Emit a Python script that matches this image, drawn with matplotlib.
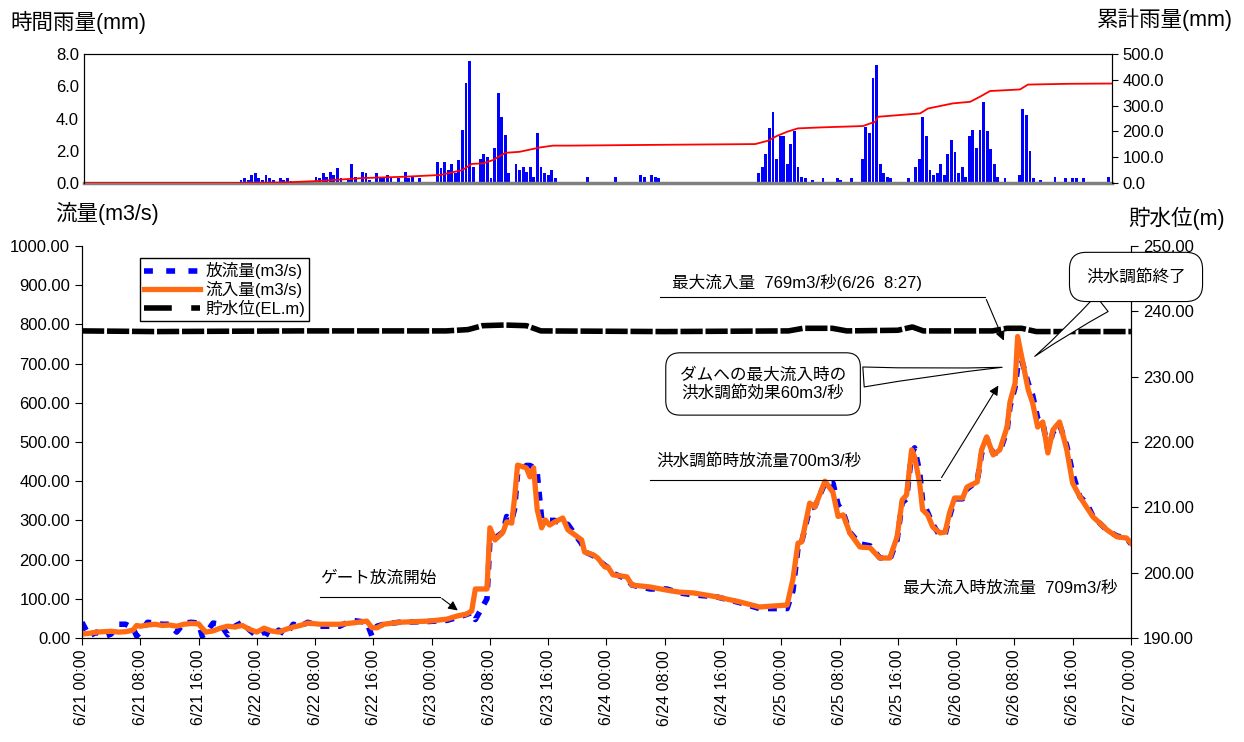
import matplotlib
matplotlib.use('Agg')
import matplotlib.pyplot as plt
import matplotlib.ticker as ticker
from matplotlib.lines import Line2D

plt.rcParams['font.family'] = ['Liberation Sans', 'Noto Sans CJK JP', 'DejaVu Sans']

# time axis: hours counted from 6/21 00:00
tick_hours = list(range(0, 145, 8))
tick_labels = ['6/21 00:00', '6/21 08:00', '6/21 16:00', '6/22 00:00', '6/22 08:00', '6/22 16:00',
               '6/23 00:00', '6/23 08:00', '6/23 16:00', '6/24 00:00', '6/24 08:00', '6/24 16:00',
               '6/25 00:00', '6/25 08:00', '6/25 16:00', '6/26 00:00', '6/26 08:00', '6/26 16:00',
               '6/27 00:00']

# hourly rainfall (mm)
rain_t = [22.0, 22.5, 23.0, 23.5, 24.0, 24.5, 25.0, 25.5, 26.0, 26.5, 27.5, 28.0, 28.5, 29.0,
          32.5, 33.0, 33.5, 34.0, 34.5, 35.0, 35.5, 36.0, 37.0, 37.5, 38.0, 39.0, 39.5, 40.0,
          41.0, 41.5, 42.0, 42.5, 43.0, 44.0, 45.0, 45.5, 46.0, 47.0,
          49.5, 50.0, 50.5, 51.0, 51.5, 52.0, 52.5, 53.0, 53.5, 54.0, 54.5,
          55.5, 56.0, 56.5, 57.0, 57.5, 58.0, 58.5, 59.0, 59.5, 60.5, 61.0, 61.5, 62.0, 62.5,
          63.0, 63.5, 64.0, 64.5, 65.0, 65.5, 66.0,
          70.5, 74.5, 78.0, 78.5, 79.5, 80.0, 80.5,
          94.5, 95.0, 95.5, 96.0, 96.5, 97.0, 97.5, 98.0, 98.5, 99.0, 99.5, 100.0, 100.5,
          101.0, 102.0, 103.5, 105.5, 106.0, 107.5,
          109.0, 109.5, 110.0, 110.5, 111.0, 111.5, 112.0, 112.5, 113.0, 115.5, 116.5, 117.0,
          117.5, 118.0, 118.5, 119.0, 119.5, 120.0, 120.5, 121.0, 121.5, 122.0, 122.5, 123.0,
          123.5, 124.0, 124.5, 125.0, 125.5, 126.0, 126.5, 127.0, 127.5, 128.0, 129.0,
          131.0, 131.5, 132.0, 132.5, 133.0, 134.0, 136.0, 137.5, 138.5, 139.0, 140.0, 143.5]
rain_mm = [0.2, 0.3, 0.2, 0.5, 0.6, 0.3, 0.2, 0.5, 0.3, 0.2, 0.3, 0.2, 0.3, 0.1,
           0.4, 0.3, 0.6, 0.4, 0.7, 0.5, 0.9, 0.3, 0.2, 1.2, 0.4, 0.7, 0.6, 0.2,
           0.6, 0.4, 0.3, 0.5, 0.4, 0.3, 0.7, 0.3, 0.4, 0.3,
           1.3, 0.9, 1.3, 0.8, 1.2, 0.6, 1.4, 3.3, 6.2, 7.6, 1.0,
           1.5, 1.8, 1.6, 0.3, 2.2, 5.6, 4.1, 3.0, 0.6, 1.2, 0.8, 1.0, 0.7, 1.0,
           0.4, 3.1, 1.0, 0.6, 0.5, 0.8, 0.3,
           0.4, 0.4, 0.5, 0.4, 0.5, 0.4, 0.3,
           0.6, 1.0, 1.8, 3.4, 4.4, 1.5, 2.9, 2.9, 1.2, 2.4, 3.2, 1.0, 0.4,
           0.3, 0.2, 0.3, 0.3, 0.2, 0.3,
           1.5, 3.5, 3.1, 6.5, 7.3, 1.2, 0.6, 0.4, 0.3, 0.3, 1.0, 1.5,
           4.1, 2.9, 0.8, 0.5, 0.6, 1.2, 0.5, 1.8, 2.7, 1.9, 0.6, 1.0,
           0.4, 2.9, 3.3, 2.2, 3.3, 5.0, 3.2, 2.1, 1.2, 0.4, 0.3,
           0.5, 4.6, 4.2, 2.0, 0.3, 0.2, 0.4, 0.3, 0.3, 0.3, 0.3, 0.4]

# cumulative rainfall (mm)
cum_t = [0, 21, 28, 33, 39, 44.7, 49.9, 53, 54.3, 55.9, 57.3, 59, 61, 63.9, 65.7, 68, 80, 94,
         95.8, 97, 98.5, 100, 103.5, 109.1, 110.1, 110.8, 111.2, 117.1, 118.2, 121.7, 124.1,
         125.5, 126.9, 131.1, 132.2, 138, 144]
cum_mm = [0, 0, 2, 8, 19, 24, 31, 50, 74, 76, 89, 117, 121, 138, 145, 145, 148, 151,
          164, 182, 199, 212, 216, 221, 231, 237, 257, 270, 289, 309, 315,
          335, 357, 363, 382, 385, 386]

# inflow / outflow (m3/s)
flow_t = [0, 1, 2, 3, 4, 5, 6, 7, 7.5, 8, 9, 10, 11, 12, 13, 14, 15, 16, 16.5, 17, 18, 19, 20,
          21, 22, 23, 24, 25, 26, 27, 28, 29, 30, 31, 32.7, 35.4, 37, 39.1, 39.8, 40.5, 41.4,
          43.5, 47.6, 50.1, 51.5, 52.8, 53.5, 54, 55.6, 56, 56.7, 57.8, 58.3, 59, 59.4, 59.8,
          61, 61.5, 62, 62.5, 63.1, 63.6, 64.2, 64.9, 66, 66.7, 68.6, 69, 70.2, 70.8, 71.8,
          72.2, 72.9, 74.8, 75.5, 78, 80.3, 82, 83.9, 87.1, 90.3, 93, 96.8, 97.6, 98.3, 98.8,
          99.9, 100.6, 102, 103.1, 103.8, 104.5, 105.4, 106.8, 108.2, 109.5, 110.9, 111.9,
          112.6, 113.2, 113.9, 114.3, 115.0, 115.4, 116.1, 116.8, 117.8, 118.5, 119.1, 119.8,
          120.9, 121.5, 122.9, 123.5, 124.2, 125.1, 126.0, 127.0, 127.4, 128.1, 128.45, 129.0,
          129.9, 130.5, 131.2, 131.9, 132.6, 133.3, 134.2, 135.2, 136.0, 137.0, 137.9, 138.8,
          140.7, 142.1, 143.4, 144]
inflow = [10, 12, 15, 16, 17, 15, 16, 20, 32, 30, 33, 35, 32, 33, 30, 35, 37, 36, 25, 15, 18, 25, 30,
          28, 32, 22, 15, 25, 18, 15, 22, 28, 32, 38, 35, 35, 38, 43, 26, 26, 35,
          40, 43, 48, 56, 61, 69, 125, 125, 281, 250, 270, 296, 293, 360, 441,
          434, 411, 434, 327, 281, 301, 288, 296, 306, 276, 250, 219, 212, 204, 181,
          181, 161, 156, 135, 130, 122, 117, 115, 105, 92, 79, 84, 150, 242, 245,
          344, 334, 400, 371, 310, 314, 268, 232, 230, 204, 204, 258,
          352, 365, 480, 462, 395, 327, 314, 283, 268, 270, 319, 357,
          357, 385, 398, 480, 513, 467, 480, 538, 602, 650, 769, 717,
          633, 600, 538, 551, 472, 531, 551, 480, 395, 360, 334, 309,
          276, 258, 255, 242]
outflow = [40, 5, 15, 3, 10, 35, 35, 25, 5, 15, 40, 38, 35, 35, 15, 38, 40, 38, 5, 12, 38, 35, 8,
           30, 40, 20, 5, 15, 5, 20, 8, 35, 30, 40, 30, 30, 45, 40, 5, 30, 35,
           40, 42, 45, 52, 60, 65, 47, 100, 250, 255, 270, 310, 300, 330, 420,
           440, 440, 435, 420, 305, 300, 300, 300, 290, 290, 240, 220, 210, 200, 185,
           180, 165, 150, 135, 125, 125, 115, 110, 105, 90, 75, 75, 120, 230, 245,
           330, 335, 395, 395, 340, 320, 270, 240, 235, 205, 200, 250,
           345, 355, 470, 485, 423, 350, 320, 290, 260, 265, 310, 355,
           355, 380, 400, 470, 510, 470, 475, 530, 590, 640, 690, 709,
           650, 620, 560, 550, 480, 525, 545, 490, 420, 360, 345, 310,
           275, 260, 255, 240]

# reservoir water level (EL.m)
level_t = [0, 10, 30, 50, 53, 55, 58, 61, 63, 80, 97, 99, 103, 105, 112, 114, 115.5,
           125, 127, 129, 131, 144]
level = [237.0, 236.9, 237.0, 237.0, 237.2, 237.8, 237.9, 237.8, 237.0, 236.9, 237.0, 237.4,
         237.4, 237.0, 237.1, 237.6, 237.0, 237.0, 237.4, 237.4, 236.9, 236.9]

fig = plt.figure(figsize=(12.44, 7.42), dpi=100)

# ---- rainfall panel ----
ax1 = fig.add_axes([0.0675, 0.7534, 0.8265, 0.1736])
ax1.bar(rain_t, rain_mm, width=0.4, color='#0000ff', linewidth=0)
ax1.set_xlim(0, 144)
ax1.set_ylim(0, 8)
ax1.set_yticks([0, 2, 4, 6, 8])
ax1.yaxis.set_major_formatter(ticker.FormatStrFormatter('%.1f'))
ax1.set_xticks([])
ax1.tick_params(axis='y', labelsize=12, length=0)
ax1.spines['bottom'].set_color('#808080')
ax1.spines['bottom'].set_linewidth(2.5)
ax1r = ax1.twinx()
ax1r.plot(cum_t, cum_mm, color='#ff0000', lw=1.3)
ax1r.set_ylim(0, 500)
ax1r.set_yticks(range(0, 501, 100))
ax1r.yaxis.set_major_formatter(ticker.FormatStrFormatter('%.1f'))
ax1r.tick_params(axis='y', labelsize=12, length=4)
ax1r.spines['bottom'].set_visible(False)

# ---- flow panel ----
ax2 = fig.add_axes([0.0659, 0.1402, 0.8432, 0.5283])
ax2r = ax2.twinx()
ax2.set_zorder(ax2r.get_zorder() + 1)
ax2.patch.set_visible(False)

ax2.plot(flow_t, outflow, color='#0000ff', lw=4, linestyle=(0, (1.6, 1.6)))
ax2.plot(flow_t, inflow, color='#ff6a13', lw=3.8, solid_joinstyle='round')
ax2r.plot(level_t, level, color='black', lw=4, linestyle=(0, (4, 0.5)))

ax2.set_xlim(0, 144)
ax2.set_ylim(0, 1000)
ax2.set_yticks(range(0, 1001, 100))
ax2.yaxis.set_major_formatter(ticker.FormatStrFormatter('%.2f'))
ax2.set_xticks(tick_hours)
ax2.set_xticklabels(tick_labels, rotation=90)
ax2.tick_params(axis='y', labelsize=12, length=5)
ax2.tick_params(axis='x', labelsize=11.5, length=5)
ax2r.set_ylim(190, 250)
ax2r.set_yticks(range(190, 251, 10))
ax2r.yaxis.set_major_formatter(ticker.FormatStrFormatter('%.2f'))
ax2r.tick_params(axis='y', labelsize=12, length=5)
for a in (ax2, ax2r):
    a.spines['top'].set_visible(False)

handles = [Line2D([], [], color='#0000ff', lw=4, linestyle=(0, (1.6, 2.4))),
           Line2D([], [], color='#ff6a13', lw=3.8),
           Line2D([], [], color='black', lw=4, linestyle=(0, (5, 3.5)))]
ax2.legend(handles, ['放流量(m3/s)', '流入量(m3/s)', '貯水位(EL.m)'], loc='upper left',
           bbox_to_anchor=(0.047, 0.99), fontsize=12, frameon=True, fancybox=False,
           edgecolor='black', framealpha=1, handlelength=3.4, borderpad=0.25,
           labelspacing=0.1, handletextpad=0.3)

# ---- annotations ----
ax2.text(81, 908, '最大流入量  769m3/秒(6/26  8:27)', fontsize=12, va='center')
ax2.plot([79.3, 124], [870, 870], color='black', lw=0.8)
ax2.annotate('', xy=(126.7, 752), xytext=(124, 870),
             arrowprops=dict(arrowstyle='-|>', color='black', lw=0.8, mutation_scale=14))

ax2.text(78.8, 452, '洪水調節時放流量700m3/秒', fontsize=12, va='center')
ax2.plot([78, 117.8], [403, 403], color='black', lw=0.8)
ax2.annotate('', xy=(126, 650), xytext=(117.8, 403),
             arrowprops=dict(arrowstyle='-|>', color='black', lw=0.8, mutation_scale=14))

ax2.text(32.7, 153, 'ゲート放流開始', fontsize=12, va='center')
ax2.plot([32.7, 49.1], [105, 105], color='black', lw=0.8)
ax2.annotate('', xy=(51.9, 66), xytext=(49.1, 105),
             arrowprops=dict(arrowstyle='-|>', color='black', lw=0.8, mutation_scale=14))

ax2.text(112.7, 128, '最大流入時放流量  709m3/秒', fontsize=12, va='center')

ax2.annotate('ダムへの最大流入時の\n洪水調節効果60m3/秒', xy=(126.7, 691), xytext=(93.5, 648),
             ha='center', va='center', fontsize=12, linespacing=1.2,
             bbox=dict(boxstyle='round,pad=0.85', fc='white', ec='black', lw=0.8),
             arrowprops=dict(arrowstyle='wedge,tail_width=1.2,shrink_factor=0.4',
                             fc='white', ec='black', lw=0.8))
ax2.annotate('洪水調節終了', xy=(130.5, 714), xytext=(144.7, 921),
             ha='center', va='center', fontsize=12, annotation_clip=False,
             bbox=dict(boxstyle='round,pad=1.0', fc='white', ec='black', lw=0.8),
             arrowprops=dict(arrowstyle='wedge,tail_width=1.2,shrink_factor=0.4',
                             fc='white', ec='black', lw=0.8))

# axis titles
fig.text(0.008, 0.970, '時間雨量(mm)', fontsize=15.5, va='center')
fig.text(0.991, 0.973, '累計雨量(mm)', fontsize=15.5, va='center', ha='right')
fig.text(0.044, 0.713, '流量(m3/s)', fontsize=15.5, va='center')
fig.text(0.985, 0.706, '貯水位(m)', fontsize=15.5, va='center', ha='right')

fig.savefig('out.png', dpi=100)
